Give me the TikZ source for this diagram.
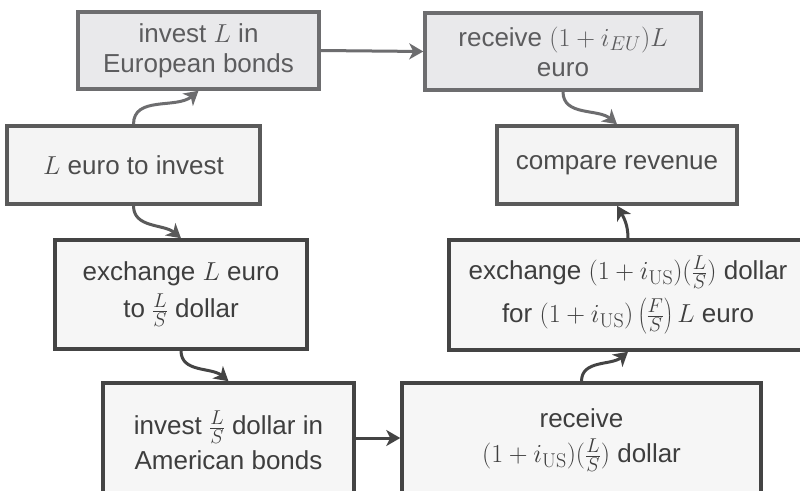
\RequirePackage{fix-cm}
\documentclass[tikz,border=0pt]{standalone}
\usepackage[no-math]{fontspec}
\setmainfont{Liberation Sans}
\usetikzlibrary{arrows.meta}
\DeclareMathSizes{26}{26}{20}{15}
\definecolor{bdA}{HTML}{6D6D6F}
\definecolor{fiA}{HTML}{E9E9EB}
\definecolor{txA}{HTML}{5C5C5E}
\definecolor{bdB}{HTML}{5A5A5A}
\definecolor{fiB}{HTML}{F4F4F4}
\definecolor{txB}{HTML}{4C4C4C}
\definecolor{bdC}{HTML}{444444}
\definecolor{fiC}{HTML}{F6F6F6}
\definecolor{txC}{HTML}{3E3E3E}
\tikzset{
  box/.style={rectangle, line width=3.5pt, align=center, inner sep=4pt,
    font=\fontsize{26}{30}\selectfont},
  boxA/.style={box, draw=bdA, fill=fiA, text=txA},
  boxB/.style={box, draw=bdB, fill=fiB, text=txB},
  boxC/.style={box, draw=bdC, fill=fiC, text=txC},
  arr/.style={line width=3pt, -{Stealth[length=14pt,width=16pt,inset=4pt]}},
}
\begin{document}
\begin{tikzpicture}[x=1pt,y=-1pt]
\clip (0,0) rectangle (800,490);
\fill[white] (0,0) rectangle (800,490);
\node[boxA, minimum width=241pt, minimum height=77pt] (b1) at (198.5,50.5) {invest $L$ in\\European bonds};
\node[boxA, minimum width=276pt, minimum height=77pt] (b8) at (563,51.5) {receive $(1+i_{EU})L$\\euro};
\node[boxB, minimum width=253pt, minimum height=78pt] (b2) at (133.5,165) {$L$ euro to invest};
\node[boxB, minimum width=240pt, minimum height=78pt] (b7) at (617,165) {compare revenue};
\node[boxC, minimum width=252pt, minimum height=109pt] (b3) at (181,294.5) {exchange $L$ euro\\[7pt]to $\frac{L}{S}$ dollar};
\node[boxC, minimum width=358pt, minimum height=110pt] (b6) at (628,295) {exchange $(1+i_{\mathrm{US}})(\frac{L}{S})$ dollar\\[8pt]for $(1+i_{\mathrm{US}})\left(\frac{F}{S}\right)L$ euro};
\node[boxC, minimum width=251pt, minimum height=114pt] (b4) at (228.5,440) {invest $\frac{L}{S}$ dollar in\\[5pt]American bonds};
\node[boxC, minimum width=359pt, minimum height=114pt] (b5) at (581.5,440) {receive\\[5pt]$(1+i_{\mathrm{US}})(\frac{L}{S})$ dollar};
\draw[arr, draw=bdA] (b2.north) to[out=90, in=-140] (b1.south);
\draw[arr, draw=bdA] (b1.east) -- (b8.west);
\draw[arr, draw=bdA] (b8.south) to[out=-90, in=140] (b7.north);
\draw[arr, draw=bdB] (b2.south) to[out=-90, in=140] (b3.north);
\draw[arr, draw=bdC] (b3.south) to[out=-90, in=140] (b4.north);
\draw[arr, draw=bdC] (b4.east |- 0,438) -- (b5.west |- 0,438);
\draw[arr, draw=bdC] (b5.north) to[out=90, in=-140] (b6.south);
\draw[arr, draw=bdC] (b6.north) to[out=90, in=-60] (b7.south);
\end{tikzpicture}
\end{document}
